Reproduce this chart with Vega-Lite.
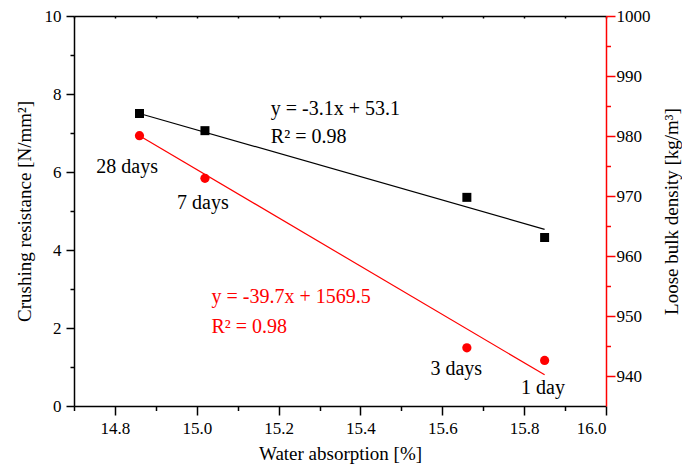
{
  "$schema": "https://vega.github.io/schema/vega-lite/v6.json",
  "width": 532,
  "height": 390,
  "autosize": {"type": "none"},
  "padding": {"left": 74, "top": 16, "right": 76, "bottom": 69},
  "background": "white",
  "config": {
    "view": {"stroke": null},
    "font": "Liberation Serif",
    "axis": {
      "labelFont": "Liberation Serif",
      "titleFont": "Liberation Serif",
      "labelFontSize": 17,
      "titleFontSize": 19,
      "titleFontWeight": "normal",
      "labelColor": "black",
      "titleColor": "black",
      "domainColor": "black",
      "tickColor": "black",
      "domainWidth": 1.5,
      "tickWidth": 1.5,
      "grid": false
    },
    "text": {"font": "Liberation Serif", "fontSize": 20}
  },
  "datasets": {
    "strength": [
      {"water": 14.86, "crushing": 7.5},
      {"water": 15.02, "crushing": 7.06},
      {"water": 15.66, "crushing": 5.35},
      {"water": 15.85, "crushing": 4.32}
    ],
    "strengthFit": [
      {"water": 14.86, "crushing": 7.5},
      {"water": 15.85, "crushing": 4.53}
    ],
    "density": [
      {"water": 14.86, "density": 980.05},
      {"water": 15.02, "density": 972.95},
      {"water": 15.66, "density": 944.7},
      {"water": 15.85, "density": 942.6}
    ],
    "densityFit": [
      {"water": 14.86, "density": 980.05},
      {"water": 15.85, "density": 940.2}
    ],
    "labels": [
      {"water": 14.83, "pos": 5.97, "label": "28 days", "series": "strength"},
      {"water": 15.015, "pos": 5.04, "label": "7 days", "series": "strength"},
      {"water": 15.634, "pos": 0.795, "label": "3 days", "series": "strength"},
      {"water": 15.846, "pos": 0.3, "label": "1 day", "series": "strength"}
    ],
    "equations": [
      {"water": 15.181, "pos": 7.46, "label": "y = -3.1x + 53.1", "series": "strength"},
      {"water": 15.181, "pos": 6.735, "label": "R² = 0.98", "series": "strength"},
      {"water": 15.036, "pos": 2.633, "label": "y = -39.7x + 1569.5", "series": "density"},
      {"water": 15.036, "pos": 1.864, "label": "R² = 0.98", "series": "density"}
    ]
  },
  "resolve": {
    "scale": {"y": "independent"},
    "axis": {"x": "independent", "y": "independent"}
  },
  "layer": [
    {
      "data": {"name": "strength"},
      "mark": {"type": "square", "size": 81, "color": "black", "opacity": 1},
      "encoding": {
        "x": {
          "field": "water", "type": "quantitative",
          "scale": {"domain": [14.7, 16.0], "nice": false, "zero": false},
          "axis": {
            "orient": "bottom",
            "values": [14.8, 15.0, 15.2, 15.4, 15.6, 15.8, 16.0],
            "format": ".1f",
            "labelFont": "Liberation Serif",
            "titleFont": "Liberation Serif",
            "tickSize": 9,
            "labelPadding": 5,
            "title": "Water absorption [%]",
            "titlePadding": 8
          }
        },
        "y": {
          "field": "crushing", "type": "quantitative",
          "scale": {"domain": [0, 10], "nice": false, "zero": false},
          "axis": {
            "orient": "left",
            "values": [0, 2, 4, 6, 8, 10],
            "format": "d",
            "labelFont": "Liberation Serif",
            "titleFont": "Liberation Serif",
            "tickSize": 8,
            "labelPadding": 5,
            "title": "Crushing resistance [N/mm²]",
            "titlePadding": 10
          }
        }
      }
    },
    {
      "data": {"name": "strengthFit"},
      "mark": {"type": "line", "color": "black", "strokeWidth": 1.2},
      "encoding": {
        "x": {
          "field": "water", "type": "quantitative",
          "scale": {"domain": [14.7, 16.0], "nice": false, "zero": false},
          "axis": {
            "orient": "bottom",
            "values": [14.7, 14.9, 15.1, 15.3, 15.5, 15.7, 15.9],
            "tickSize": 4.5,
            "labels": false,
            "domain": false,
            "title": null
          }
        },
        "y": {
          "field": "crushing", "type": "quantitative",
          "scale": {"domain": [0, 10], "nice": false, "zero": false},
          "axis": {
            "orient": "left",
            "values": [1, 3, 5, 7, 9],
            "tickSize": 4,
            "labels": false,
            "domain": false,
            "title": null
          }
        }
      }
    },
    {
      "data": {"name": "density"},
      "mark": {"type": "circle", "size": 85, "color": "#ff0000", "opacity": 1},
      "encoding": {
        "x": {
          "field": "water", "type": "quantitative",
          "scale": {"domain": [14.7, 16.0], "nice": false, "zero": false},
          "axis": {
            "orient": "top",
            "values": [14.7, 14.8, 14.9, 15.0, 15.1, 15.2, 15.3, 15.4, 15.5, 15.6, 15.7, 15.8, 15.9, 16.0],
            "tickSize": -2,
            "labels": false,
            "title": null
          }
        },
        "y": {
          "field": "density", "type": "quantitative",
          "scale": {"domain": [935, 1000], "nice": false, "zero": false},
          "axis": {
            "orient": "right",
            "values": [940, 950, 960, 970, 980, 990, 1000],
            "format": "d",
            "labelFont": "Liberation Serif",
            "titleFont": "Liberation Serif",
            "tickSize": 9,
            "labelPadding": 1,
            "domainColor": "#ff0000",
            "tickColor": "#ff0000",
            "title": "Loose bulk density [kg/m³]",
            "titleAngle": 270,
            "titleBaseline": "top",
            "titlePadding": 12
          }
        }
      }
    },
    {
      "data": {"name": "densityFit"},
      "mark": {"type": "line", "color": "#ff0000", "strokeWidth": 1.2},
      "encoding": {
        "x": {
          "field": "water", "type": "quantitative",
          "scale": {"domain": [14.7, 16.0], "nice": false, "zero": false},
          "axis": null
        },
        "y": {
          "field": "density", "type": "quantitative",
          "scale": {"domain": [935, 1000], "nice": false, "zero": false},
          "axis": {
            "orient": "right",
            "values": [945, 955, 965, 975, 985, 995],
            "tickSize": 4.5,
            "labels": false,
            "domain": false,
            "tickColor": "#ff0000",
            "title": null
          }
        }
      }
    },
    {
      "data": {"name": "labels"},
      "mark": {"type": "text", "align": "center", "baseline": "alphabetic", "fontSize": 20, "font": "Liberation Serif"},
      "encoding": {
        "x": {
          "field": "water", "type": "quantitative",
          "scale": {"domain": [14.7, 16.0], "nice": false, "zero": false},
          "axis": null
        },
        "y": {
          "field": "pos", "type": "quantitative",
          "scale": {"domain": [0, 10], "nice": false, "zero": false},
          "axis": null
        },
        "text": {"field": "label"},
        "color": {
          "field": "series", "type": "nominal",
          "scale": {"domain": ["strength", "density"], "range": ["black", "#ff0000"]},
          "legend": null
        }
      }
    },
    {
      "data": {"name": "equations"},
      "mark": {"type": "text", "align": "left", "baseline": "alphabetic", "fontSize": 20, "font": "Liberation Serif"},
      "encoding": {
        "x": {
          "field": "water", "type": "quantitative",
          "scale": {"domain": [14.7, 16.0], "nice": false, "zero": false},
          "axis": null
        },
        "y": {
          "field": "pos", "type": "quantitative",
          "scale": {"domain": [0, 10], "nice": false, "zero": false},
          "axis": null
        },
        "text": {"field": "label"},
        "color": {
          "field": "series", "type": "nominal",
          "scale": {"domain": ["strength", "density"], "range": ["black", "#ff0000"]},
          "legend": null
        }
      }
    }
  ]
}
